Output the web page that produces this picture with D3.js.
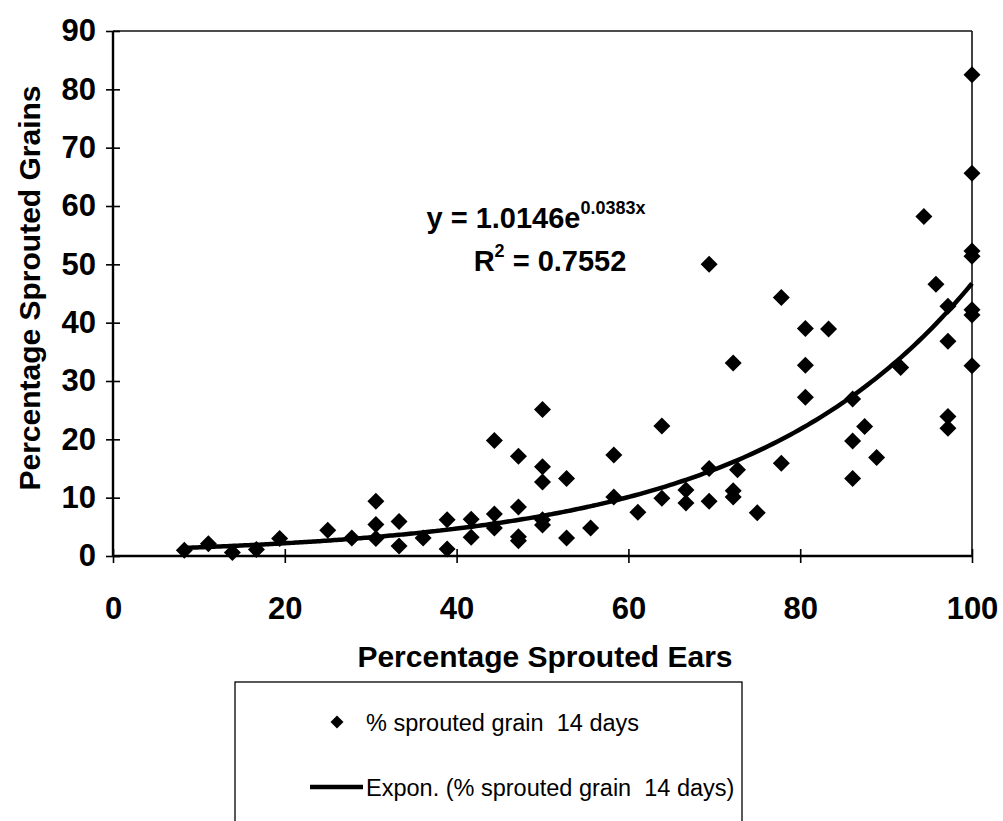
<!DOCTYPE html>
<html>
<head>
<meta charset="utf-8">
<script src="https://cdn.jsdelivr.net/npm/d3@7"></script>
<style>
  body { margin: 0; background: #fff; }
  svg { display: block; font-family: "Liberation Sans", Arial, Helvetica, sans-serif; }
  text { white-space: pre; }
</style>
</head>
<body>
<div id="chart"></div>
<script>
// % sprouted ears (x) vs % sprouted grains after 14 days (y)
const sproutedEars = [
  8.3, 11.1, 13.9, 16.7, 19.4, 25.0, 27.8, 30.6, 30.6, 30.6,
  33.3, 33.3, 36.1, 38.9, 38.9, 41.7, 41.7, 44.4, 44.4, 44.4,
  47.2, 47.2, 47.2, 47.2, 50.0, 50.0, 50.0, 50.0, 50.0, 52.8,
  52.8, 55.6, 58.3, 58.3, 61.1, 63.9, 63.9, 66.7, 66.7, 69.4,
  69.4, 69.4, 72.2, 72.2, 72.2, 72.7, 75.0, 77.8, 77.8, 80.6,
  80.6, 80.6, 83.3, 86.1, 86.1, 86.1, 87.5, 88.9, 91.7, 94.4,
  95.8, 97.2, 97.2, 97.2, 97.2, 100, 100, 100, 100, 100,
  100, 100
];
const sproutedGrains = [
  1.0, 2.1, 0.6, 1.1, 3.0, 4.4, 3.1, 9.4, 5.4, 3.0,
  5.9, 1.7, 3.1, 1.2, 6.2, 6.3, 3.2, 19.8, 7.2, 4.8,
  17.1, 8.4, 3.3, 2.6, 25.1, 15.3, 12.7, 6.2, 5.3, 13.3,
  3.1, 4.8, 17.3, 10.1, 7.5, 22.3, 9.9, 11.3, 9.1, 50.0,
  15.0, 9.4, 33.1, 11.2, 10.1, 14.8, 7.4, 44.3, 15.9, 39.0,
  32.7, 27.2, 38.9, 26.9, 19.7, 13.3, 22.2, 16.9, 32.3, 58.2,
  46.6, 42.8, 36.8, 23.9, 21.9, 82.5, 65.6, 52.3, 51.4, 42.2,
  41.3, 32.6
];
const xTicks = [0, 20, 40, 60, 80, 100];
const yTicks = [0, 10, 20, 30, 40, 50, 60, 70, 80, 90];

// Excel exponential trendline as printed on the chart
const fitA = 1.0146, fitB = 0.0383, fitR2 = "0.7552";
const seriesName = "% sprouted grain  14 days";

const W = 1003, H = 821;
const m = { left: 113, top: 31, right: 31, bottom: 265 };
const iw = W - m.left - m.right, ih = H - m.top - m.bottom;

const svg = d3.select("#chart").append("svg").attr("width", W).attr("height", H);
const g = svg.append("g").attr("transform", `translate(${m.left},${m.top})`);

const x = d3.scaleLinear().domain([0, 100]).range([0, iw]);
const y = d3.scaleLinear().domain([0, 90]).range([ih, 0]);

// frame top + right (thin)
g.append("line").attr("x1", 0).attr("x2", iw).attr("y1", 0).attr("y2", 0)
  .attr("stroke", "#111").attr("stroke-width", 1.6);
g.append("line").attr("x1", iw).attr("x2", iw).attr("y1", 0).attr("y2", ih)
  .attr("stroke", "#111").attr("stroke-width", 1.6);

// axes, ticks cross the line both ways
const yAxis = g.append("g").call(d3.axisLeft(y).tickValues(yTicks).tickSize(7));
yAxis.select(".domain").attr("stroke", "#000").attr("stroke-width", 2.4).attr("d", `M0,0V${ih}`);
yAxis.selectAll(".tick line").attr("x1", -7).attr("x2", 7).attr("stroke-width", 1.6);
yAxis.selectAll(".tick text").attr("x", -17).attr("font-size", 31).attr("font-weight", "bold")
  .attr("font-family", "Liberation Sans, Arial, sans-serif").attr("fill", "#000");

const xAxis = g.append("g").attr("transform", `translate(0,${ih})`)
  .call(d3.axisBottom(x).tickValues(xTicks).tickSize(7));
xAxis.select(".domain").attr("stroke", "#000").attr("stroke-width", 2.4).attr("d", `M0,0H${iw}`);
xAxis.selectAll(".tick line").attr("y1", -7).attr("y2", 7).attr("stroke-width", 1.6);
xAxis.selectAll(".tick text").attr("y", 63).attr("dy", 0).attr("font-size", 31).attr("font-weight", "bold")
  .attr("font-family", "Liberation Sans, Arial, sans-serif").attr("fill", "#000");

// axis titles
svg.append("text").attr("x", 545).attr("y", 667).attr("text-anchor", "middle")
  .attr("font-size", 30).attr("font-weight", "bold").text("Percentage Sprouted Ears");
svg.append("text").attr("transform", "translate(40,288) rotate(-90)").attr("text-anchor", "middle")
  .attr("font-size", 30).attr("font-weight", "bold").text("Percentage Sprouted Grains");

// trendline from min x to max x
const xs = d3.range(d3.min(sproutedEars), 100.001, 0.5);
if (xs[xs.length - 1] < 100) xs.push(100);
const line = d3.line().x(d => x(d)).y(d => y(fitA * Math.exp(fitB * d))).curve(d3.curveMonotoneX);
g.append("path").datum(xs).attr("d", line).attr("fill", "none")
  .attr("stroke", "#000").attr("stroke-width", 4.5);

// diamonds
const diamond = "M0,-8.5L8.5,0L0,8.5L-8.5,0Z";
g.selectAll("path.pt").data(d3.zip(sproutedEars, sproutedGrains)).join("path")
  .attr("class", "pt").attr("d", diamond)
  .attr("transform", d => `translate(${x(d[0])},${y(d[1])})`)
  .attr("fill", "#000");

// equation label
const eq = svg.append("text").attr("x", 536).attr("y", 228).attr("text-anchor", "middle")
  .attr("font-size", 29).attr("font-weight", "bold");
eq.append("tspan").text(`y = ${fitA}e`);
eq.append("tspan").attr("font-size", 18).attr("dy", -14).text(`${fitB}x`);
const r2 = svg.append("text").attr("x", 550).attr("y", 271).attr("text-anchor", "middle")
  .attr("font-size", 29).attr("font-weight", "bold");
r2.append("tspan").text("R");
r2.append("tspan").attr("font-size", 18).attr("dy", -14).text("2");
r2.append("tspan").attr("dy", 14).text(` = ${fitR2}`);

// legend box (runs off the bottom like the scan)
svg.append("rect").attr("x", 235).attr("y", 682).attr("width", 507).attr("height", 160)
  .attr("fill", "none").attr("stroke", "#000").attr("stroke-width", 1.3);
svg.append("path").attr("d", "M0,-6.5L6.5,0L0,6.5L-6.5,0Z").attr("transform", "translate(337,722)");
svg.append("text").attr("x", 366).attr("y", 731).attr("font-size", 23.5).text(seriesName);
svg.append("line").attr("x1", 310).attr("x2", 363).attr("y1", 787).attr("y2", 787)
  .attr("stroke", "#000").attr("stroke-width", 4.5);
svg.append("text").attr("x", 366).attr("y", 796).attr("font-size", 23.5).text(`Expon. (${seriesName})`);
</script>
</body>
</html>
